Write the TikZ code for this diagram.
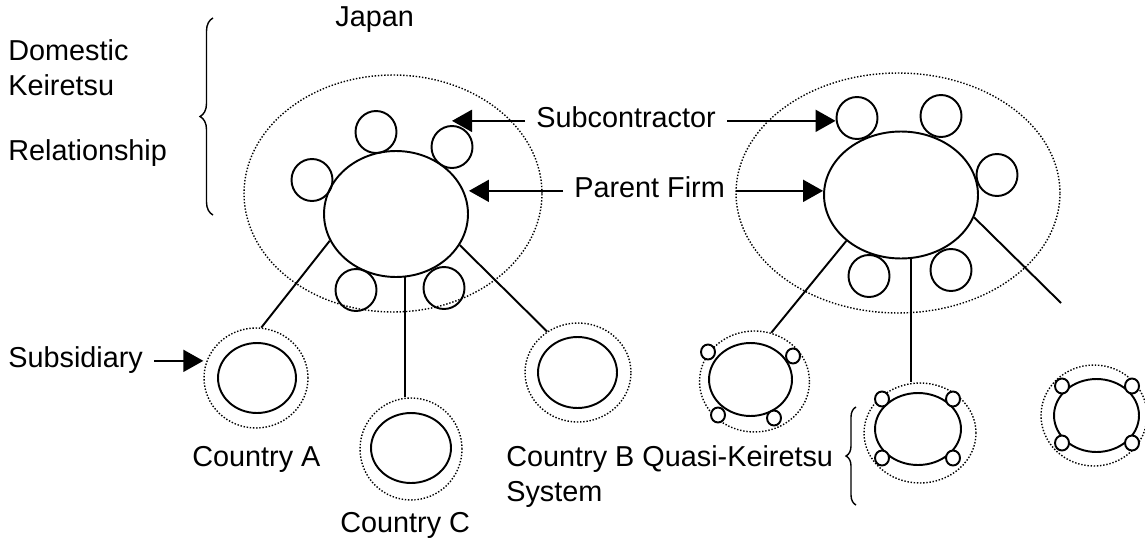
\documentclass[tikz,border=0pt]{standalone}
\usepackage{fontspec}
\setmainfont{Liberation Sans}
\usetikzlibrary{arrows.meta,shapes.geometric,decorations.pathreplacing}

\begin{document}
\begin{tikzpicture}[
  x=0.02cm, y=-0.02cm,
  font=\fontsize{16.4}{19.9}\selectfont,
  circ/.style 2 args={ellipse, draw, line width=1.1pt, inner sep=0, minimum width=#1*0.4mm, minimum height=#2*0.4mm},
  firm/.style 2 args={circ={#1}{#2}, fill=white},
  ring/.style 2 args={ellipse, draw, densely dotted, line width=0.8pt, inner sep=0, minimum width=#1*0.4mm, minimum height=#2*0.4mm},
  tiny/.style={circ={7}{7.5}, fill=white},
  lbl/.style={inner sep=0, anchor=base west, text height=11pt, text depth=4pt},
  txt/.style={inner sep=0, anchor=base west, align=left},
  arr/.style={-{Triangle[length=4mm,width=4.4mm]}, line width=1.1pt, shorten <=2.2mm},
  link/.style={line width=1.1pt},
  brc/.style={decorate, decoration={brace, amplitude=#1}, line width=0.8pt},
  brc/.default=2.4mm
]
\useasboundingbox (0,0) rectangle (1145,541);

% --- texts (base of a two-line node is its last line)
\node[txt] (japan) at (335,27) {Japan};
\node[txt] (dom) at (8,160) {Domestic\\Keiretsu\\[6mm]Relationship};
\node[lbl] (subc) at (536,127) {Subcontractor};
\node[lbl] (pfirm) at (574,197) {Parent Firm};
\node[lbl] (subs) at (8,367) {Subsidiary};
\node[txt] (ctyA) at (192,466) {Country A};
\node[txt] (ctyC) at (340,532) {Country C};
\node[txt] (ctyB) at (506,501) {Country B Quasi-Keiretsu\\System};

% --- domestic keiretsu in Japan
\node[ring={149}{118.5}] (jL) at (393,193.5) {};
\node[ring={162}{120}] (jR) at (898,193) {};
\node[firm={72}{63}] (pL) at (396,214) {};
\node[firm={77}{63.5}] (pR) at (901,195) {};
\foreach \n/\x/\y in {cL1/376/132, cL2/452/147, cL3/312/180, cL4/356/290, cL5/444/288,
                      cR1/857/118, cR2/941/116, cR3/997/175, cR4/869/276, cR5/951/270}
  \node[circ={20.5}{21}] (\n) at (\x,\y) {};

% --- subsidiaries abroad
\node[ring={52}{50}] (sA) at (256,378) {};
\node[circ={39}{35}] (iA) at (257,378) {};
\node[ring={51}{51}] (sC) at (411,449) {};
\node[circ={40}{35}] (iC) at (411,448) {};
\node[ring={53}{49.5}] (sB) at (578,372.5) {};
\node[circ={39.5}{35.5}] (iB) at (577.5,372.5) {};

% --- quasi-keiretsu system
\node[ring={55}{50.5}] (q1) at (754.5,381.5) {};
\node[circ={41.5}{36.5}] (iq1) at (750.5,379.5) {};
\node[ring={56}{50}] (q2) at (920,433) {};
\node[circ={43}{36}] (iq2) at (918,429) {};
\node[ring={53}{50.5}] (q3) at (1094,415.5) {};
\node[circ={42.5}{36.5}] (iq3) at (1096.5,415.5) {};
\foreach \n/\x/\y in {q1a/708/352, q1b/793/356, q1c/718/415, q1d/774/418,
                      q2a/882/399, q2b/953/399, q2c/882/458, q2d/953/458,
                      q3a/1062/386, q3b/1132/386, q3c/1062/443, q3d/1132/443}
  \node[tiny] (\n) at (\x,\y) {};

% --- links parent to subsidiaries
\draw[link] (pL.202) -- (sA.84);
\draw[link] (pL.278) -- (pL.278 |- sC.north);
\draw[link] (pL.334) -- (sB.127);
\coordinate (loose) at (1061,303);
\draw[link] (pR.220) -- (q1.71);
\draw[link] (pR.279) -- (pR.279 |- q2.north);
\draw[link] (pR.343) -- (loose);

% --- pointers
\draw[arr] (subc.west) -- (subc.west -| cL2.north);
\draw[arr] (subc.east) -- (subc.east -| cR1.west);
\draw[arr] (pfirm.west) -- (pfirm.west -| pL.east);
\draw[arr] (pfirm.east) -- (pfirm.east -| pR.west);
\draw[arr] (subs.east) -- (subs.east -| sA.west);

% --- braces
\coordinate (bL1) at (213,215);
\coordinate (bL2) at (213,18);
\draw[brc=2.6mm] (bL1) -- (bL2);
\coordinate (bR1) at (856,505);
\coordinate (bR2) at (856,407);
\draw[brc=2mm] (bR1) -- (bR2);
\end{tikzpicture}
\end{document}
